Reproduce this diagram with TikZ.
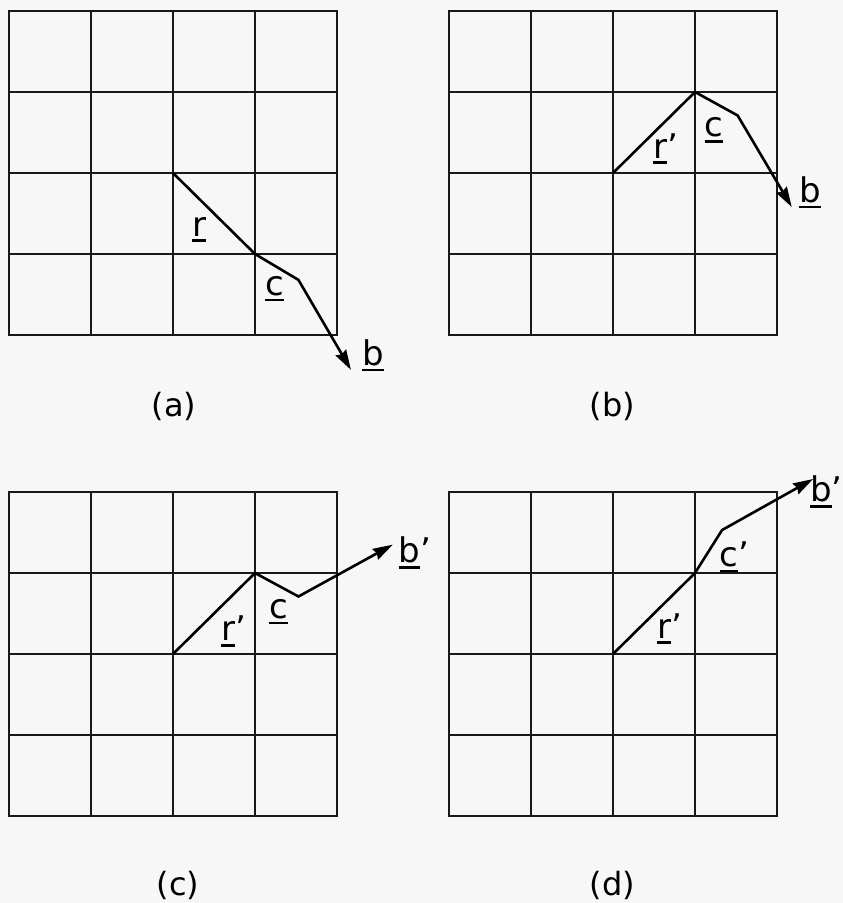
\documentclass[tikz,border=0pt]{standalone}
\usepackage{fontspec}
\setmainfont{DejaVu Sans}
\usetikzlibrary{arrows.meta}

\tikzset{
  gridline/.style={line width=1.8pt, black!90},
  vecline/.style={line width=2.6pt, line join=miter},
  vecarrow/.style={vecline, -{Stealth[length=20pt, width=12pt, inset=2pt]}},
  veclabel/.style={font=\fontsize{34}{38}\selectfont, inner sep=0pt},
  panellabel/.style={font=\fontsize{32}{36}\selectfont, inner sep=0pt},
  panel/.style={x=82pt, y=81pt}
}
\newcommand{\uvec}[1]{\vtop{\hbox{#1}\kern3pt\hrule height 2.6pt}}
\newcommand{\cellgrid}{%
  \draw[gridline] (0,0) rectangle (4,4);
  \foreach \i in {1,2,3} {
    \draw[gridline] (\i,0) -- (\i,4);
    \draw[gridline] (0,\i) -- (4,\i);
  }}

\begin{document}
\begin{tikzpicture}[x=1pt, y=1pt]
  \fill[black!3] (0,0) rectangle (843,903);
  \useasboundingbox (0,0) rectangle (843,903);

  % (a)
  \begin{scope}[panel, shift={(9pt,568pt)}]
    \cellgrid
    \coordinate (ra) at (2,2);
    \coordinate (ca) at (3,1);
    \coordinate (ka) at (3.53,0.68);
    \coordinate (ba) at (4.17,-0.43);
    \draw[vecarrow] (ra) -- (ca) -- (ka) -- (ba);
    \node[veclabel] (lra) at (2.32,1.30) {\uvec{r}};
    \node[veclabel] (lca) at (3.24,0.57) {\uvec{c}};
    \node[veclabel] (lba) at (4.44,-0.25) {\uvec{b}};
    \node[panellabel] (capa) at (2.01,-0.88) {(a)};
  \end{scope}

  % (b)
  \begin{scope}[panel, shift={(449pt,568pt)}]
    \cellgrid
    \coordinate (rb) at (2,2);
    \coordinate (cb) at (3,3);
    \coordinate (kb) at (3.52,2.71);
    \coordinate (bb) at (4.18,1.58);
    \draw[vecarrow] (rb) -- (cb) -- (kb) -- (bb);
    \node[veclabel] (lrb) at (2.64,2.30) {\uvec{r}'};
    \node[veclabel] (lcb) at (3.23,2.53) {\uvec{c}};
    \node[veclabel] (lbb) at (4.40,1.76) {\uvec{b}};
    \node[panellabel] (capb) at (1.99,-0.88) {(b)};
  \end{scope}

  % (c)
  \begin{scope}[panel, shift={(9pt,87pt)}]
    \cellgrid
    \coordinate (rc) at (2,2);
    \coordinate (cc) at (3,3);
    \coordinate (kc) at (3.53,2.71);
    \coordinate (bc) at (4.68,3.35);
    \draw[vecarrow] (rc) -- (cc) -- (kc) -- (bc);
    \node[veclabel] (lrc) at (2.74,2.28) {\uvec{r}'};
    \node[veclabel] (lcc) at (3.29,2.52) {\uvec{c}};
    \node[veclabel] (lbc) at (4.95,3.25) {\uvec{b}'};
    \node[panellabel] (capc) at (2.06,-0.86) {(c)};
  \end{scope}

  % (d)
  \begin{scope}[panel, shift={(449pt,87pt)}]
    \cellgrid
    \coordinate (rd) at (2,2);
    \coordinate (cd) at (3,3);
    \coordinate (kd) at (3.33,3.53);
    \coordinate (bd) at (4.44,4.16);
    \draw[vecarrow] (rd) -- (cd) -- (kd) -- (bd);
    \node[veclabel] (lrd) at (2.69,2.31) {\uvec{r}'};
    \node[veclabel] (lcd) at (3.48,3.20) {\uvec{c}'};
    \node[veclabel, anchor=east] (lbd) at (4.80,4.0) {\uvec{b}'};
    \node[panellabel] (capd) at (1.99,-0.86) {(d)};
  \end{scope}
\end{tikzpicture}
\end{document}
